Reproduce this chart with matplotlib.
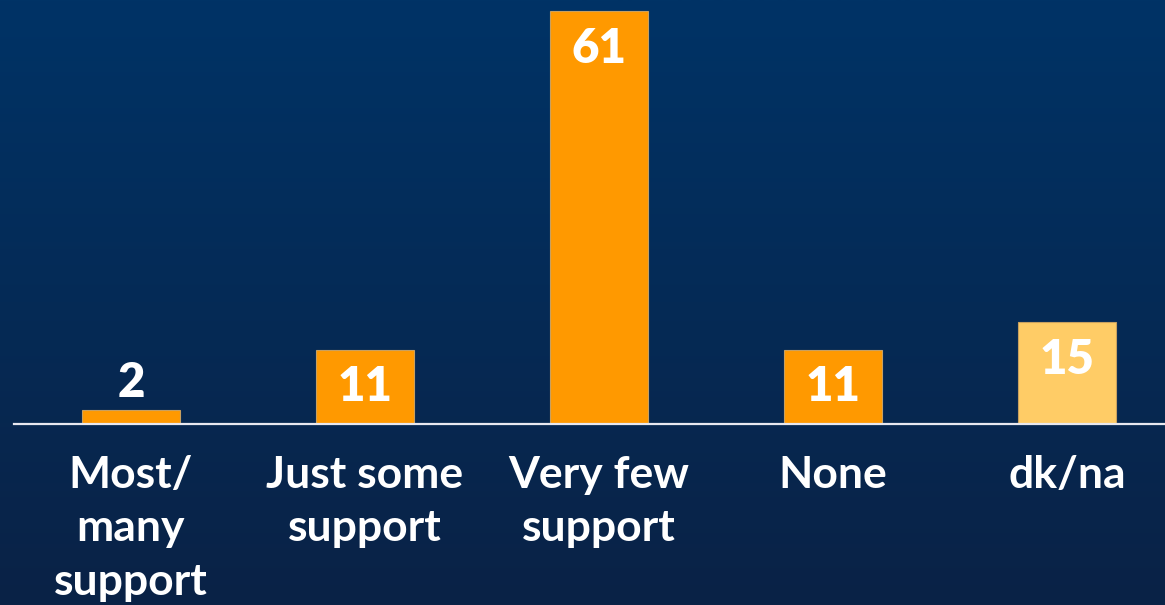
import numpy as np
import matplotlib
matplotlib.use("Agg")
import matplotlib.pyplot as plt
from matplotlib.colors import LinearSegmentedColormap

categories = ["Most/\nmany\nsupport", "Just some\nsupport", "Very few\nsupport", "None", "dk/na"]
values = [2, 11, 61, 11, 15]
bar_colors = ["#FF9900", "#FF9900", "#FF9900", "#FF9900", "#FFCC66"]

plt.rcParams['font.family'] = ['Lato', 'DejaVu Sans']

fig = plt.figure(figsize=(11.65, 6.05), dpi=100)

# gradient background
bg = fig.add_axes([0, 0, 1, 1], zorder=0)
cmap = LinearSegmentedColormap.from_list("bg", ["#003366", "#0a2246"])
grad = np.linspace(0, 1, 256).reshape(-1, 1)
bg.imshow(grad, aspect='auto', cmap=cmap, extent=[0, 1, 0, 1], origin='upper')
bg.set_axis_off()

ax = fig.add_axes([14/1165, (605-424)/605, 1 - 14/1165, 424/605], zorder=1)
ax.patch.set_alpha(0)
x = np.arange(len(values))
ax.bar(x, values, width=98/234, color=bar_colors, edgecolor="#c8a060", linewidth=0.8, zorder=2)
ax.set_xlim(-0.5, 4.419)
ax.set_ylim(0, 424/6.77)
for s in ax.spines.values():
    s.set_visible(False)
ax.axhline(0, color="#e8e8f0", linewidth=1.6, zorder=3, clip_on=False)
ax.set_xticks([])
ax.set_yticks([])

for xi, v in zip(x, values):
    if v < 5:
        ax.annotate(str(v), (xi, v), xytext=(0, 9.4), textcoords='offset points',
                    ha='center', va='baseline', color='white', fontsize=34, fontweight='heavy')
    else:
        ax.annotate(str(v), (xi, v), xytext=(0, -37.4), textcoords='offset points',
                    ha='center', va='baseline', color='white', fontsize=34, fontweight='heavy')

for xi, lab in zip(x, categories):
    ax.annotate(lab, (xi, 0), xytext=(0, -22), textcoords='offset points',
                ha='center', va='top', color='white', fontsize=32, fontweight='bold',
                linespacing=1.42, multialignment='center', annotation_clip=False)

fig.savefig("out.png", dpi=100)
